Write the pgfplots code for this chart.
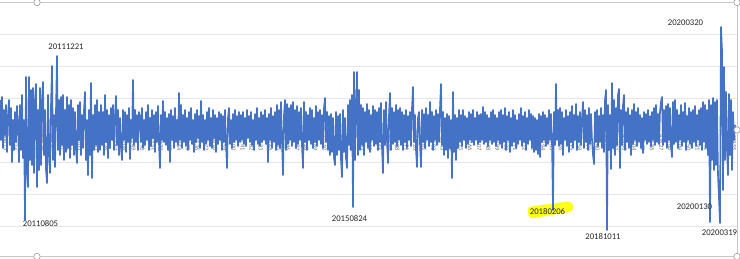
\documentclass[border=0pt]{standalone}
\usepackage{pgfplots}
\pgfplotsset{compat=1.18}
\usepackage{fontspec}
\setmainfont{Carlito}
\definecolor{xlblue}{HTML}{4472C4}
\definecolor{gridc}{HTML}{E6E6E6}
\definecolor{framec}{HTML}{C6C6C6}
\definecolor{hl}{HTML}{FFFF1A}
\begin{document}
\begin{tikzpicture}
\begin{axis}[
  at={(0,0)}, anchor=south west,
  scale only axis, width=737pt, height=259pt,
  xmin=0, xmax=737, ymin=-129, ymax=130,
  set layers=standard,
  clip=false,
  axis x line=middle,
  axis y line=left,
  x axis line style={draw=none},
  y axis line style={draw=none},
  ytick={-96,-64,-32,0,32,64,96},
  yticklabels={},
  ymajorgrids,
  grid style={draw=gridc, line width=0.9pt},
  xtick={6,15.1,...,734},
  xticklabels={40675,40716,40757,40798,40839,40880,40921,40962,41003,41044,41085,41126,41167,41208,41249,41290,41331,41372,41413,41454,41495,41536,41577,41618,41659,41700,41741,41782,41823,41864,41905,41946,41987,42028,42069,42110,42151,42192,42233,42274,42315,42356,42397,42438,42479,42520,42561,42602,42643,42684,42725,42766,42807,42848,42889,42930,42971,43012,43053,43094,43135,43176,43217,43258,43299,43340,43381,43422,43463,43504,43545,43586,43627,43668,43709,43750,43791,43832,43873,43914,43955},
  xticklabel style={yshift=-4pt, rotate=-90, anchor=west, inner sep=0pt, font=\fontsize{6.5}{7}\selectfont, text=black!55},
  major tick length=0pt,
  tick style={draw=none},
]
\fill[hl, rounded corners=4pt] (axis cs:527,-77) -- (axis cs:572,-71) -- (axis cs:574,-81) -- (axis cs:529,-89) -- cycle;
\addplot[xlblue, line width=1.6pt, line join=round, mark=none] coordinates {
(0,30)(1,-10)(2,33)(3,-18)(4,20)(5,-5)(6,25)(7,-22)(8,15)(9,30)(10,-15)(11,22)(12,-32)(13,10)(14,-20)(15,18)(16,-12)(17,24)(18,5)(19,-32)
(20,25)(21,-20)(22,35)(23,-28)(24,10)(25,-90)(26,53)(27,-40)(28,-57)(29,53)(30,-30)(31,40)(32,-35)(33,42)(34,-43)(35,30)(36,46)(37,-57)(38,20)(39,-40)
(40,42)(41,-35)(42,30)(43,48)(44,-25)(45,20)(46,-40)(47,-53)(48,35)(49,-20)(50,-43)(51,25)(52,64)(53,-30)(54,15)(55,-37)(56,20)(57,74)(58,-20)(59,30)
(60,-25)(61,33)(62,-15)(63,35)(64,-30)(65,20)(66,-22)(67,33)(68,-18)(69,25)(70,-28)(71,30)(72,-15)(73,22)(74,-25)(75,18)(76,-20)(77,-33)(78,25)(79,-10)
(80,28)(81,-25)(82,15)(83,-18)(84,20)(85,38)(86,-30)(87,10)(88,-45)(89,20)(90,-25)(91,47)(92,-48)(93,15)(94,-20)(95,25)(96,-15)(97,30)(98,-22)(99,18)
(100,-20)(101,25)(102,-15)(103,18)(104,-25)(105,35)(106,-12)(107,20)(108,-28)(109,15)(110,-18)(111,22)(112,-10)(113,25)(114,-20)(115,15)(116,34)(117,-15)(118,20)(119,-25)
(120,12)(121,-18)(122,-30)(123,20)(124,-10)(125,18)(126,-22)(127,15)(128,-12)(129,22)(130,-29)(131,10)(132,-8)(133,50)(134,-15)(135,20)(136,-12)(137,15)(138,-20)(139,18)
(140,14)(141,-12)(142,22)(143,-18)(144,10)(145,-15)(146,18)(147,-10)(148,25)(149,-20)(150,12)(151,-16)(152,20)(153,-8)(154,15)(155,-22)(156,18)(157,-12)(158,24)(159,-14)
(160,-38)(161,15)(162,-10)(163,29)(164,-12)(165,18)(166,-15)(167,12)(168,-20)(169,16)(170,-32)(171,20)(172,-10)(173,14)(174,-18)(175,22)(176,-12)(177,10)(178,-15)(179,37)
(180,-10)(181,25)(182,-18)(183,15)(184,-12)(185,20)(186,-16)(187,12)(188,-20)(189,18)(190,-10)(191,22)(192,-14)(193,10)(194,-22)(195,16)(196,-12)(197,20)(198,-8)(199,14)
(200,-18)(201,29)(202,-12)(203,15)(204,-20)(205,10)(206,-14)(207,18)(208,-10)(209,22)(210,-16)(211,12)(212,-18)(213,20)(214,-8)(215,15)(216,-22)(217,12)(218,-14)(219,18)
(220,-10)(221,16)(222,-20)(223,14)(224,-12)(225,20)(226,-15)(227,-38)(228,12)(229,22)(230,-14)(231,10)(232,-18)(233,16)(234,-12)(235,20)(236,-10)(237,14)(238,-16)(239,18)
(240,-12)(241,15)(242,-10)(243,18)(244,-14)(245,12)(246,-16)(247,20)(248,-8)(249,14)(250,-12)(251,18)(252,-15)(253,10)(254,-20)(255,16)(256,-10)(257,22)(258,-14)(259,12)
(260,-16)(261,18)(262,-12)(263,15)(264,-10)(265,20)(266,-14)(267,12)(268,-32)(269,16)(270,-10)(271,22)(272,-18)(273,14)(274,-12)(275,18)(276,-20)(277,25)(278,-15)(279,20)
(280,-18)(281,28)(282,-12)(283,-45)(284,15)(285,30)(286,-20)(287,26)(288,-14)(289,22)(290,-10)(291,25)(292,-16)(293,28)(294,-12)(295,20)(296,-18)(297,24)(298,-14)(299,18)
(300,-10)(301,22)(302,-16)(303,-38)(304,28)(305,-12)(306,18)(307,-20)(308,15)(309,-10)(310,22)(311,-14)(312,20)(313,-18)(314,12)(315,-12)(316,24)(317,-16)(318,18)(319,-10)
(320,20)(321,-14)(322,15)(323,-18)(324,22)(325,32)(326,-12)(327,18)(328,-20)(329,14)(330,-25)(331,16)(332,-22)(333,12)(334,-28)(335,-35)(336,18)(337,-25)(338,14)(339,-20)
(340,16)(341,-30)(342,-47)(343,20)(344,-22)(345,12)(346,-28)(347,-38)(348,25)(349,-15)(350,30)(351,-20)(352,35)(353,-77)(354,58)(355,-30)(356,20)(357,58)(358,-25)(359,40)
(360,-20)(361,25)(362,-15)(363,22)(364,-25)(365,18)(366,-12)(367,26)(368,-18)(369,20)(370,-22)(371,15)(372,-10)(373,24)(374,-16)(375,20)(376,-14)(377,18)(378,-20)(379,22)
(380,-12)(381,27)(382,-18)(383,-43)(384,20)(385,-15)(386,28)(387,-10)(388,-33)(389,15)(390,37)(391,-20)(392,22)(393,-14)(394,18)(395,-12)(396,25)(397,-16)(398,20)(399,-10)
(400,22)(401,-15)(402,18)(403,-20)(404,15)(405,-12)(406,20)(407,-18)(408,14)(409,-10)(410,18)(411,-16)(412,22)(413,43)(414,-12)(415,15)(416,-20)(417,-37)(418,12)(419,18)
(420,-14)(421,-37)(422,20)(423,-12)(424,16)(425,-18)(426,22)(427,-10)(428,15)(429,-16)(430,28)(431,-12)(432,18)(433,-20)(434,14)(435,-10)(436,20)(437,-15)(438,16)(439,-12)
(440,22)(441,46)(442,-15)(443,18)(444,-25)(445,12)(446,-20)(447,16)(448,-28)(449,14)(450,-18)(451,10)(452,-48)(453,38)(454,-22)(455,15)(456,-30)(457,12)(458,-18)(459,20)
(460,-12)(461,15)(462,-16)(463,20)(464,-10)(465,14)(466,-18)(467,12)(468,-14)(469,18)(470,-10)(471,16)(472,-12)(473,20)(474,-15)(475,12)(476,-10)(477,18)(478,-14)(479,15)
(480,-12)(481,16)(482,-10)(483,23)(484,-14)(485,18)(486,-12)(487,15)(488,-16)(489,12)(490,-10)(491,18)(492,-14)(493,20)(494,-12)(495,15)(496,-16)(497,12)(498,-10)(499,18)
(500,-14)(501,20)(502,-18)(503,15)(504,-12)(505,22)(506,-20)(507,14)(508,-10)(509,18)(510,-22)(511,12)(512,-16)(513,20)(514,-12)(515,15)(516,-18)(517,10)(518,-14)(519,16)
(520,-10)(521,22)(522,-16)(523,14)(524,-12)(525,18)(526,-20)(527,12)(528,-14)(529,20)(530,-10)(531,16)(532,-18)(533,14)(534,-22)(535,12)(536,-20)(537,10)(538,-24)(539,16)
(540,-27)(541,14)(542,-12)(543,18)(544,-10)(545,15)(546,-16)(547,12)(548,-14)(549,20)(550,-10)(551,16)(552,-12)(553,-80)(554,18)(555,-15)(556,46)(557,-10)(558,20)(559,-16)
(560,22)(561,-14)(562,18)(563,-25)(564,12)(565,-10)(566,20)(567,-16)(568,14)(569,-22)(570,18)(571,-12)(572,24)(573,-18)(574,15)(575,-10)(576,26)(577,-20)(578,14)(579,-12)
(580,18)(581,-15)(582,12)(583,28)(584,-18)(585,20)(586,-12)(587,15)(588,-20)(589,22)(590,-14)(591,16)(592,-10)(593,-25)(594,-34)(595,18)(596,-12)(597,20)(598,-16)(599,14)
(600,-12)(601,22)(602,-18)(603,15)(604,-22)(605,30)(606,40)(607,-100)(608,25)(609,-20)(610,15)(611,-39)(612,47)(613,-18)(614,30)(615,-25)(616,22)(617,-15)(618,35)(619,41)
(620,-38)(621,20)(622,-15)(623,25)(624,35)(625,-20)(626,18)(627,-12)(628,22)(629,-18)(630,15)(631,-25)(632,20)(633,-14)(634,26)(635,-10)(636,18)(637,-16)(638,22)(639,-12)
(640,15)(641,-18)(642,12)(643,-23)(644,18)(645,-10)(646,16)(647,-14)(648,20)(649,-12)(650,14)(651,-16)(652,18)(653,-10)(654,22)(655,-15)(656,25)(657,-12)(658,16)(659,-14)
(660,18)(661,28)(662,33)(663,-15)(664,20)(665,-12)(666,24)(667,-18)(668,26)(669,-10)(670,22)(671,-16)(672,-27)(673,28)(674,-14)(675,30)(676,-12)(677,20)(678,-18)(679,15)
(680,-10)(681,25)(682,-16)(683,18)(684,-12)(685,27)(686,-20)(687,14)(688,-10)(689,22)(690,-14)(691,18)(692,-18)(693,20)(694,-12)(695,24)(696,-16)(697,15)(698,-10)(699,20)
(700,-15)(701,22)(702,-20)(703,28)(704,-12)(705,25)(706,-18)(707,20)(708,-25)(709,30)(710,-92)(711,25)(712,-30)(713,32)(714,-40)(715,28)(716,-35)(717,30)(718,-45)(719,-69)
(720,-93)(721,103)(722,80)(723,-60)(724,63)(725,-30)(726,38)(727,-20)(728,-45)(729,36)(730,-25)(731,30)(732,-40)(733,18)(734,-10)(735,5)
};
\begin{scope}[every node/.style={font=\fontsize{8.7}{10}\selectfont, text=black!85, inner sep=0pt}]
\node at (axis cs:66,83) {20111221};
\node at (axis cs:40.5,-94) {20110805};
\node at (axis cs:349.5,-89) {20150824};
\node at (axis cs:547.5,-82) {20180206};
\node at (axis cs:603,-106.5) {20181011};
\node at (axis cs:685.5,107) {20200320};
\node at (axis cs:694.5,-77) {20200130};
\node at (axis cs:719.5,-102.5) {20200319};
\end{scope}
\end{axis}
\draw[framec, line width=0.9pt] (0,256.5pt) -- (737pt,256.5pt) -- (737pt,2.5pt) -- (0,2.5pt);
\foreach \p in {(37pt,256.5pt),(37pt,2.5pt),(737pt,256.5pt),(737pt,129pt),(737pt,2.5pt)}
  \filldraw[fill=white, draw=black!40, line width=0.6pt] \p circle (3.2pt);
\pgfresetboundingbox
\path[use as bounding box] (0,0) rectangle (740pt,259pt);
\end{tikzpicture}
\end{document}
